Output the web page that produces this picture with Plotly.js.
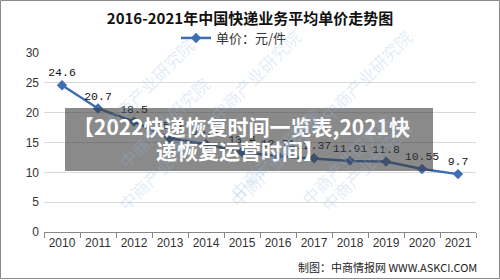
<!DOCTYPE html>
<html>
<head>
<meta charset="utf-8">
<script src="https://cdn.plot.ly/plotly-3.0.1.min.js"></script>
<style>html,body{margin:0;padding:0;background:#fff;}#chart{width:500px;height:280px;}</style>
</head>
<body>
<div id="chart"></div>
<script>
// Data
const years = ["2010","2011","2012","2013","2014","2015","2016","2017","2018","2019","2020","2021"];
const unitPrice = [24.6, 20.7, 18.5, 15.7, 14.7, 13.4, 12.71, 12.37, 11.91, 11.8, 10.55, 9.7];
const priceLabels = ["24.6","20.7","18.5","15.7","14.7","13.4","12.71","12.37","11.91","11.8","10.55","9.7"];
const seriesName = "单价：元/件";
const chartTitle = "2016-2021年中国快递业务平均单价走势图";
const sourceText = "制图：中商情报网 WWW.ASKCI.COM";
const bannerLine1 = "【2022快递恢复时间一览表,2021快";
const bannerLine2 = "递恢复运营时间】";
const watermarkText = "中商产业研究院";

// geometry helpers (pixel -> paper)
const L = 44, R = 24, T = 53, B = 48, W = 500, H = 280;
const pw = W - L - R, ph = H - T - B;
const px = x => (x - L) / pw;
const py = y => (H - B - y) / ph;

const trace = {
  x: years, y: unitPrice, type: "scatter", mode: "lines+markers+text",
  name: seriesName,
  text: priceLabels, textposition: "top center",
  textfont: {family: "Liberation Mono, DejaVu Sans Mono, monospace", size: 11.5, color: "#111"},
  line: {color: "#3e6db3", width: 2.5},
  marker: {symbol: "diamond", size: 8, color: "#3e6db3"},
  cliponaxis: false
};

const watermarks = [
  [255, 22], [420, 22], [95, 30],
  [110, 122], [275, 100], [420, 112],
  [110, 218], [275, 215], [400, 213]
].map(p => ({
  xref: "paper", yref: "paper", x: px(p[0]), y: py(p[1]),
  text: watermarkText, showarrow: false, textangle: -45,
  font: {family: "Noto Sans CJK SC", size: 17, color: "rgba(150,185,225,0.28)"}
}));

const layout = {
  width: W, height: H,
  margin: {l: L, r: R, t: T, b: B, autoexpand: false},
  paper_bgcolor: "#fff", plot_bgcolor: "#fff",
  showlegend: true,
  legend: {orientation: "h", x: px(176), xanchor: "left", y: py(38), yanchor: "middle",
    font: {family: "Noto Sans CJK SC", size: 13, color: "#333"}, bgcolor: "rgba(0,0,0,0)"},
  title: {text: "<b>" + chartTitle + "</b>", x: 0.5, xref: "container", xanchor: "center", y: 1 - 19/H, yanchor: "middle",
    font: {family: "Noto Sans CJK SC", size: 15, color: "#111"}},
  xaxis: {type: "category", range: [-0.5, 11.5], showgrid: false, showline: true, linecolor: "#888", linewidth: 1,
    ticks: "outside", tickson: "boundaries", ticklen: 5, tickcolor: "#888", tickangle: 0,
    tickfont: {family: "Liberation Sans, Arial", size: 12, color: "#333"}, fixedrange: true, automargin: false},
  yaxis: {range: [0, 30], dtick: 5, showgrid: true, gridcolor: "#d9d9d9", gridwidth: 1, zeroline: false,
    showline: false, ticks: "", tickfont: {family: "Liberation Sans, Arial", size: 12, color: "#333"},
    ticklabelstandoff: 4, fixedrange: true, automargin: false},
  shapes: [
    {type: "rect", xref: "paper", yref: "paper", x0: px(0.5), x1: px(499.5), y0: py(0.5), y1: py(278.5),
      line: {color: "#8a8a8a", width: 1}, fillcolor: "rgba(0,0,0,0)", layer: "below"},
    {type: "rect", xref: "paper", yref: "paper", x0: px(65), x1: px(433), y0: py(108), y1: py(171),
      line: {width: 0}, fillcolor: "rgba(60,60,60,0.6)", layer: "above"}
  ],
  annotations: [
    {xref: "paper", yref: "paper", x: px(241), y: py(126), text: "<b>" + bannerLine1 + "</b>", showarrow: false,
      xanchor: "center", yanchor: "middle", font: {family: "Noto Sans CJK SC", size: 21, color: "#fff"}},
    {xref: "paper", yref: "paper", x: px(240), y: py(150), text: "<b>" + bannerLine2 + "</b>", showarrow: false,
      xanchor: "center", yanchor: "middle", font: {family: "Noto Sans CJK SC", size: 21, color: "#fff"}},
    {xref: "paper", yref: "paper", x: px(479), y: py(267), text: sourceText, showarrow: false,
      xanchor: "right", yanchor: "middle", font: {family: "Noto Sans CJK SC", size: 11, color: "#222"}}
  ].concat(watermarks)
};

Plotly.newPlot("chart", [trace], layout, {displayModeBar: false, staticPlot: true});
</script>
</body>
</html>
